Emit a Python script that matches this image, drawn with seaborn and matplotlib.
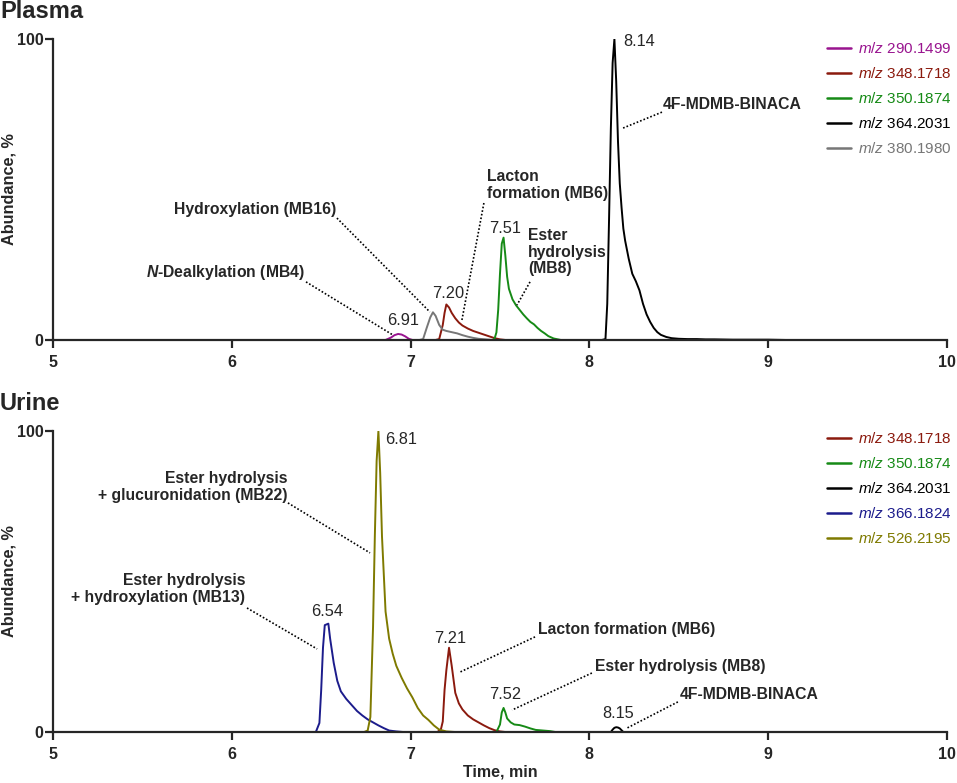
import matplotlib

matplotlib.use("Agg")

import matplotlib.pyplot as plt
import pandas as pd
import seaborn as sns

# plasma traces (time, min / abundance, %)
p290_t = [6.86, 6.89, 6.91, 6.93, 6.95, 6.97, 6.99, 7.01]
p290_y = [0, 0.8, 1.6, 2.0, 1.8, 1.2, 0.4, 0]

p348_t = [7.14, 7.16, 7.18, 7.19, 7.20, 7.215, 7.23, 7.25, 7.27, 7.29, 7.32,
          7.35, 7.38, 7.41, 7.44, 7.47, 7.50, 7.53]
p348_y = [0, 0.3, 5.0, 9.0, 11.8, 10.8, 9.0, 7.2, 5.8, 4.8, 3.8, 3.0, 2.4,
          1.8, 1.2, 0.6, 0.2, 0]

p350_t = [7.46, 7.47, 7.48, 7.49, 7.50, 7.51, 7.52, 7.53, 7.54, 7.55, 7.57,
          7.59, 7.61, 7.63, 7.65, 7.67, 7.69, 7.71, 7.73, 7.75, 7.77, 7.80, 7.84]
p350_y = [0, 0.5, 2.5, 10, 22, 32, 34, 28, 21, 17, 13.5, 11.5, 10, 8.5, 7.2,
          6.0, 5.2, 4.0, 3.0, 2.2, 1.3, 0.5, 0]

p364_t = [8.07, 8.09, 8.10, 8.11, 8.12, 8.13, 8.14, 8.15, 8.16, 8.17, 8.18,
          8.19, 8.20, 8.22, 8.24, 8.26, 8.28, 8.30, 8.32, 8.34, 8.36, 8.38,
          8.40, 8.43, 8.46, 8.50, 8.55, 8.60, 8.65, 8.70, 8.80, 8.90, 9.00,
          9.10, 9.26]
p364_y = [0, 0.3, 12, 40, 70, 92, 100, 86, 66, 52, 44, 37, 33, 27, 22, 19.5,
          16.5, 12, 8.5, 6, 4, 2.6, 1.7, 1.0, 0.6, 0.4, 0.3, 0.3, 0.2, 0.2,
          0.1, 0.1, 0.1, 0, 0]

p380_t = [7.05, 7.07, 7.09, 7.11, 7.125, 7.14, 7.16, 7.18, 7.20, 7.23, 7.26,
          7.29, 7.32, 7.35, 7.38, 7.42, 7.46]
p380_y = [0, 0.3, 4.0, 7.5, 9.2, 8.0, 5.0, 3.4, 3.0, 2.6, 2.2, 1.6, 1.1, 0.7,
          0.4, 0.2, 0]

# urine traces
u348_t = [7.15, 7.17, 7.18, 7.19, 7.20, 7.215, 7.23, 7.25, 7.27, 7.29, 7.32,
          7.35, 7.38, 7.41, 7.44, 7.47, 7.50, 7.53]
u348_y = [0, 1, 3.5, 14, 20.5, 28, 22, 13, 9.5, 7.5, 5.5, 4.2, 3.2, 2.2, 1.3,
          0.6, 0.2, 0]

u350_t = [7.48, 7.50, 7.51, 7.52, 7.53, 7.54, 7.56, 7.58, 7.61, 7.64, 7.67,
          7.70, 7.74, 7.78, 7.81]
u350_y = [0, 2.5, 6.5, 8, 6.5, 4.5, 3.2, 2.5, 2.3, 1.8, 1.2, 0.7, 0.5, 0.3, 0]

u364_t = [8.12, 8.13, 8.14, 8.15, 8.16, 8.17, 8.18, 8.19]
u364_y = [0, 0.8, 1.4, 1.6, 1.5, 1.2, 0.6, 0]

u366_t = [6.47, 6.49, 6.50, 6.51, 6.52, 6.54, 6.55, 6.57, 6.59, 6.61, 6.64,
          6.67, 6.70, 6.73, 6.76, 6.79, 6.82, 6.85, 6.88, 6.92, 6.96]
u366_y = [0, 3, 14, 28, 35.5, 36, 31, 23, 17, 13.5, 11, 9, 7, 5.5, 4.2, 3.2,
          2.2, 1.3, 0.5, 0.2, 0]

u526_t = [6.74, 6.76, 6.775, 6.79, 6.80, 6.81, 6.82, 6.83, 6.84, 6.86, 6.88,
          6.90, 6.92, 6.95, 6.98, 7.01, 7.04, 7.07, 7.10, 7.13, 7.16, 7.20, 7.25]
u526_y = [0, 0.5, 5, 35, 65, 90, 100, 86, 65, 40, 31, 26, 22, 18, 14.5, 11.5,
          8, 5.5, 4, 2.2, 0.8, 0.2, 0]

ions = ["290.1499", "348.1718", "350.1874", "364.2031", "366.1824",
        "380.1980", "526.2195"]
ion_colors = ["#99148f", "#8b1a0e", "#168a16", "#000000", "#1c1c8c",
              "#777777", "#7f7a00"]

plasma_traces = [("290.1499", p290_t, p290_y), ("348.1718", p348_t, p348_y),
                 ("350.1874", p350_t, p350_y), ("364.2031", p364_t, p364_y),
                 ("380.1980", p380_t, p380_y)]
urine_traces = [("348.1718", u348_t, u348_y), ("350.1874", u350_t, u350_y),
                ("364.2031", u364_t, u364_y), ("366.1824", u366_t, u366_y),
                ("526.2195", u526_t, u526_y)]

# peak retention times shown above the peaks
plasma_rt = ["6.91", "7.20", "7.51", "8.14"]
urine_rt = ["6.54", "6.81", "7.21", "7.52", "8.15"]


def ion_label(ion):
    return "$\\mathit{m/z}$ " + ion


def to_frame(traces):
    rows = []
    for ion, t, y in traces:
        for ti, yi in zip(t, y):
            rows.append({"time": ti, "abundance": yi, "ion": ion_label(ion)})
    return pd.DataFrame(rows)


sns.set_style("ticks")
plt.rcParams["font.family"] = ["Liberation Sans", "DejaVu Sans"]
plt.rcParams["mathtext.fontset"] = "custom"
plt.rcParams["mathtext.rm"] = "Liberation Sans"
plt.rcParams["mathtext.it"] = "Liberation Sans:italic"
plt.rcParams["mathtext.bfit"] = "Liberation Sans:italic:bold"

palette = {ion_label(i): c for i, c in zip(ions, ion_colors)}

fig = plt.figure(figsize=(9.57, 7.83), dpi=100)
ax_p = fig.add_axes([0.0554, 0.5658, 0.9341, 0.3844])
ax_u = fig.add_axes([0.0554, 0.0651, 0.9341, 0.3845])

ANN = 11.3
RT = 11.8
LEG = 11.0


def style_axis(ax, traces, legend_y):
    df = to_frame(traces)
    sns.lineplot(data=df, x="time", y="abundance", hue="ion",
                 hue_order=[ion_label(i) for i, _, _ in traces],
                 palette=palette, estimator=None, sort=False,
                 linewidth=1.4, ax=ax)
    ax.set_xlim(5, 10)
    ax.set_ylim(0, 100)
    ax.set_xticks([5, 6, 7, 8, 9, 10])
    ax.set_yticks([0, 100])
    sns.despine(ax=ax)
    for s in ["left", "bottom"]:
        ax.spines[s].set_linewidth(1.6)
    ax.tick_params(axis="both", width=1.6, length=6, labelsize=11.5)
    ax.tick_params(axis="y", pad=1)
    ax.tick_params(axis="x", pad=5)
    for lab in ax.get_xticklabels() + ax.get_yticklabels():
        lab.set_fontweight("bold")
    ax.set_ylabel("Abundance, %", fontsize=11.7, fontweight="bold")
    ax.yaxis.set_label_coords(-0.041, 0.5)
    ax.set_xlabel("")
    handles, labels = ax.get_legend_handles_labels()
    leg = ax.legend(handles, labels, loc="upper left",
                    bbox_to_anchor=(0.866, legend_y), frameon=False,
                    borderpad=0, borderaxespad=0, handlelength=1.57,
                    handletextpad=0.42, labelspacing=0.66, fontsize=LEG,
                    labelcolor="linecolor")
    for h in leg.get_lines():
        h.set_linewidth(1.8)


def note(ax, text, tx, ty, ha, x0, y0, x1, y1):
    ax.text(tx, ty, text, ha=ha, va="center", fontsize=ANN,
            fontweight="bold", linespacing=1.15)
    ax.plot([x0, x1], [y0, y1], color="black", linestyle=(0, (1, 1.2)),
            linewidth=1.2)


style_axis(ax_p, plasma_traces, 0.993)
style_axis(ax_u, urine_traces, 1.0)

# plasma annotations
note(ax_p, "$\\mathbfit{N}$-Dealkylation (MB4)", 6.41, 22.3, "right",
     6.415, 19.3, 6.90, 1.7)
note(ax_p, "Hydroxylation (MB16)", 6.583, 43.2, "right",
     6.588, 40.5, 7.108, 9.3)
note(ax_p, "Lacton\nformation (MB6)", 7.427, 51.5, "left",
     7.41, 45.5, 7.287, 6.6)
note(ax_p, "Ester\nhydrolysis\n(MB8)", 7.657, 29.2, "left",
     7.668, 19.3, 7.595, 11.6)
note(ax_p, "4F-MDMB-BINACA", 8.41, 78.4, "left",
     8.406, 75.7, 8.188, 70.4)

rt_pos_p = [(6.957, 6.6, "center"), (7.209, 15.6, "center"),
            (7.528, 37.2, "center"), (8.188, 99.2, "left")]
for lab, (x, y, ha) in zip(plasma_rt, rt_pos_p):
    ax_p.text(x, y, lab, ha=ha, va="center", fontsize=RT)

# urine annotations
note(ax_u, "Ester hydrolysis\n+ glucuronidation (MB22)", 6.314, 81.4, "right",
     6.314, 76.1, 6.773, 59.5)
note(ax_u, "Ester hydrolysis\n+ hydroxylation (MB13)", 6.074, 47.5, "right",
     6.085, 41.2, 6.477, 27.6)
note(ax_u, "Lacton formation (MB6)", 7.713, 34.2, "left",
     7.696, 31.6, 7.276, 19.9)
note(ax_u, "Ester hydrolysis (MB8)", 8.031, 21.9, "left",
     8.014, 19.6, 7.567, 7.3)
note(ax_u, "4F-MDMB-BINACA", 8.507, 12.3, "left",
     8.495, 10.0, 8.21, 1.3)

rt_pos_u = [(6.532, 39.9, "center"), (6.857, 97.3, "left"),
            (7.22, 31.2, "center"), (7.528, 12.3, "center"),
            (8.16, 6.3, "center")]
for lab, (x, y, ha) in zip(urine_rt, rt_pos_u):
    ax_u.text(x, y, lab, ha=ha, va="center", fontsize=RT)

ax_p.set_xlabel("")
ax_u.set_xlabel("Time, min", fontsize=11.5, fontweight="bold")
ax_u.xaxis.set_label_coords(0.5, -0.108)

fig.text(0.0, 1 - 12 / 783, "Plasma", ha="left", va="center",
         fontsize=17, fontweight="bold")
fig.text(0.0, 1 - 403 / 783, "Urine", ha="left", va="center",
         fontsize=17, fontweight="bold")

fig.savefig("out.png", dpi=100)
plt.close(fig)
